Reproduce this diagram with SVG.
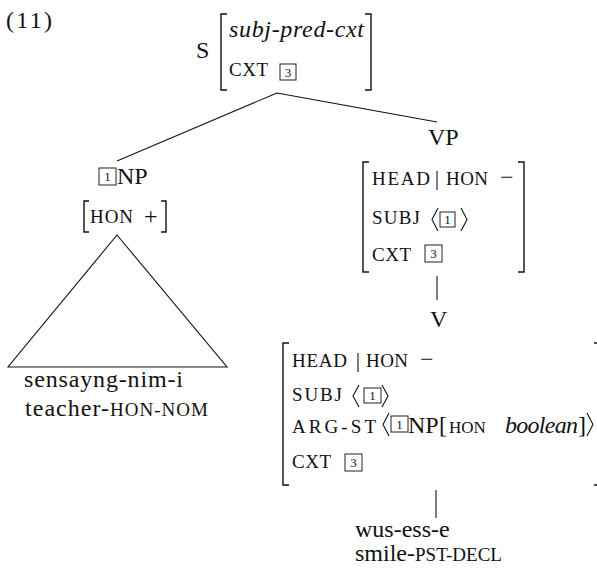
<svg xmlns="http://www.w3.org/2000/svg" width="597" height="571" viewBox="0 0 597 571">
<style>
text{font-family:"Liberation Serif","DejaVu Serif",serif;fill:#111}
.m{font-size:24px}
.sc{font-size:19px}
.it{font-size:24px;font-style:italic}
.d{font-size:13px;text-anchor:middle}
.br{fill:none;stroke:#111;stroke-width:1.4}
.bx{fill:none;stroke:#222;stroke-width:1}
.ln{fill:none;stroke:#111;stroke-width:1.1}
</style>
<text class="m" x="6" y="28" textLength="46">(11)</text>

<g id="connectors">
<path class="ln" d="M277,93 L117,161 M277,93 L437,122"/>
<path class="ln" d="M117,235 L8,367 L227,367 Z"/>
<path class="ln" d="M437,276 V300"/>
<path class="ln" d="M436,490 V518"/>
</g>

<g id="S">
<text class="m" x="196" y="58">S</text>
<path class="br" d="M227,14 H221 V90 H227 M365,14 H371 V90 H365"/>
<text class="it" x="229" y="37" textLength="135">subj-pred-cxt</text>
<text class="sc" x="229" y="76" textLength="39">CXT</text>
<rect class="bx" x="280" y="64" width="16" height="16"/>
<text class="d" x="288" y="77">3</text>
</g>

<g id="NP">
<rect class="bx" x="99" y="168" width="17" height="17"/>
<text class="d" x="107.5" y="181">1</text>
<text class="m" x="117" y="184">NP</text>
<path class="br" d="M89,201 H84 V232 H89 M161,201 H166 V232 H161"/>
<text class="sc" x="90" y="223" textLength="43">HON</text>
<text class="m" x="144" y="224">+</text>
</g>

<g id="NP-leaf">
<text class="m" x="24" y="387" textLength="159">sensayng-nim-i</text>
<text class="m" x="25" y="416"><tspan textLength="84">teacher-</tspan><tspan class="sc" x="110" textLength="98">HON-NOM</tspan></text>
</g>

<g id="VP">
<text class="m" x="428" y="145">VP</text>
<path class="br" d="M369,162 H363 V272 H369 M518,162 H524 V272 H518"/>
<text class="sc" x="372" y="185" textLength="58">HEAD</text>
<path class="ln" d="M437,171 V190"/>
<text class="sc" x="446" y="185" textLength="42">HON</text>
<text class="m" x="500" y="185">−</text>
<text class="sc" x="372" y="224" textLength="48">SUBJ</text>
<path class="ln" d="M438,208 L432,219.5 L438,231 M461,208 L467,219.5 L461,231"/>
<rect class="bx" x="440" y="212" width="15" height="15"/>
<text class="d" x="447.5" y="224">1</text>
<text class="sc" x="372" y="261" textLength="39">CXT</text>
<rect class="bx" x="425" y="245" width="17" height="17"/>
<text class="d" x="433.5" y="258">3</text>
</g>

<g id="V">
<text class="m" x="430" y="327">V</text>
<path class="br" d="M289,343 H283 V485 H289 M594,343 H600 V485 H594"/>
<text class="sc" x="292" y="367" textLength="55">HEAD</text>
<path class="ln" d="M358,353 V372"/>
<text class="sc" x="366" y="367" textLength="42">HON</text>
<text class="m" x="420" y="367">−</text>
<text class="sc" x="292" y="401" textLength="50">SUBJ</text>
<path class="ln" d="M359,385 L353,396 L359,407 M382,385 L388,396 L382,407"/>
<rect class="bx" x="364" y="388" width="17" height="15"/>
<text class="d" x="372.5" y="400">1</text>
<text class="sc" x="292" y="433" textLength="84">ARG-ST</text>
<path class="ln" d="M389,413 L383,424.5 L389,436 M587,413 L593,424.5 L587,436"/>
<rect class="bx" x="391" y="416" width="17" height="16"/>
<text class="d" x="399.5" y="429">1</text>
<text class="m" x="408" y="433">NP</text>
<text class="m" x="439" y="433">[</text>
<text class="sc" x="449" y="433" style="font-size:17px">HON</text>
<text class="it" x="505" y="433" textLength="73">boolean</text>
<text class="m" x="578" y="433">]</text>
<text class="sc" x="292" y="468" textLength="39">CXT</text>
<rect class="bx" x="345" y="454" width="17" height="17"/>
<text class="d" x="353.5" y="467">3</text>
</g>

<g id="V-leaf">
<text class="m" x="355" y="537">wus-ess-e</text>
<text class="m" x="355" y="561">smile-<tspan class="sc">PST-DECL</tspan></text>
</g>
</svg>
